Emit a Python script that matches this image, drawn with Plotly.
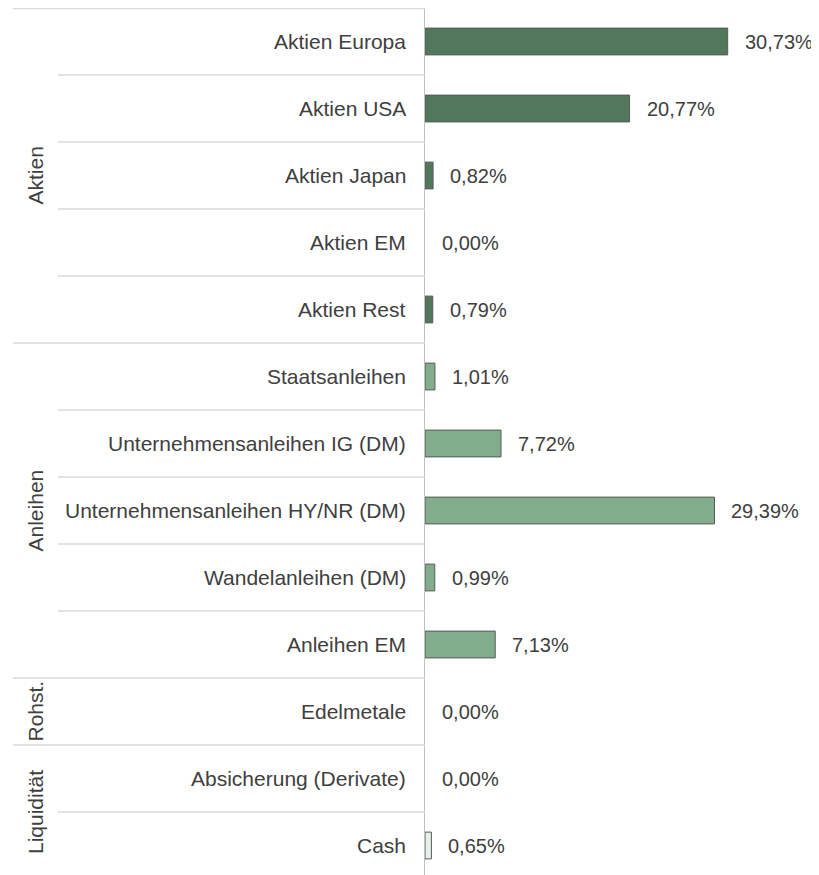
import plotly.graph_objects as go

categories = ["Aktien Europa", "Aktien USA", "Aktien Japan", "Aktien EM", "Aktien Rest",
              "Staatsanleihen", "Unternehmensanleihen IG (DM)", "Unternehmensanleihen HY/NR (DM)",
              "Wandelanleihen (DM)", "Anleihen EM", "Edelmetale", "Absicherung (Derivate)", "Cash"]
values = [30.73, 20.77, 0.82, 0.00, 0.79, 1.01, 7.72, 29.39, 0.99, 7.13, 0.00, 0.00, 0.65]
groups = ["Aktien"] * 5 + ["Anleihen"] * 5 + ["Rohst."] + ["Liquidität"] * 2
group_colors = {"Aktien": "#52785c", "Anleihen": "#82ad8c", "Rohst.": "#82ad8c", "Liquidität": "#e6efe8"}

# page has an 8px body margin
W, H = 811, 867
L, T = 417, 0
plot_w = W - L
row_px = 67
plot_h = H - T
n = len(categories)
y_bottom = -0.5 + plot_h / row_px
xmax = plot_w / 9.85

TXT = "#404040"
FONT = "Liberation Sans, Arial, sans-serif"
FS = 21
FS_VAL = 20

ypos = list(range(n))
fig = go.Figure(go.Bar(
    x=values, y=ypos, orientation="h", width=0.4,
    marker=dict(color=[group_colors[g] for g in groups],
                line=dict(color="#5a5a5a", width=[1 if v > 0 else 0 for v in values])),
    hoverinfo="skip",
))

def px2paper(px):
    return (px - L) / plot_w

annotations = []
shapes = []
for i, v in enumerate(values):
    annotations.append(dict(x=v, y=i, xref="x", yref="y", text=f"{v:.2f}%".replace(".", ","),
                            showarrow=False, xanchor="left", xshift=15,
                            font=dict(size=FS_VAL, color=TXT, family=FONT)))
    annotations.append(dict(x=0, y=i, xref="paper", yref="y", text=categories[i],
                            showarrow=False, xanchor="right", xshift=-17,
                            font=dict(size=FS, color=TXT, family=FONT)))
for k in range(n):
    boundary = k == 0 or groups[k] != groups[k - 1]
    x0 = px2paper(5) if boundary else px2paper(50)
    yk = k - 0.5 + (0.6 / row_px if k == 0 else 0)
    shapes.append(dict(type="line", xref="paper", yref="y", x0=x0, x1=0, y0=yk, y1=yk,
                       line=dict(color="#d9d9d9", width=1.3)))
seen = []
for g in groups:
    if g not in seen:
        seen.append(g)
for g in seen:
    idx = [i for i, gg in enumerate(groups) if gg == g]
    yc = (idx[0] + idx[-1]) / 2
    annotations.append(dict(x=px2paper(27), y=yc, xref="paper", yref="y", text=g, textangle=-90,
                            showarrow=False, xanchor="center", yanchor="middle",
                            font=dict(size=FS, color=TXT, family=FONT)))

fig.update_layout(
    width=W, height=H, margin=dict(l=L, r=0, t=T, b=0),
    paper_bgcolor="white", plot_bgcolor="white", showlegend=False,
    xaxis=dict(range=[0, xmax], visible=False, fixedrange=True),
    yaxis=dict(range=[y_bottom, -0.5], showticklabels=False, showgrid=False, zeroline=False,
               showline=True, linecolor="#bfbfbf", linewidth=1.3, ticks=""),
    annotations=annotations, shapes=shapes,
)
fig.write_html("out.html")
